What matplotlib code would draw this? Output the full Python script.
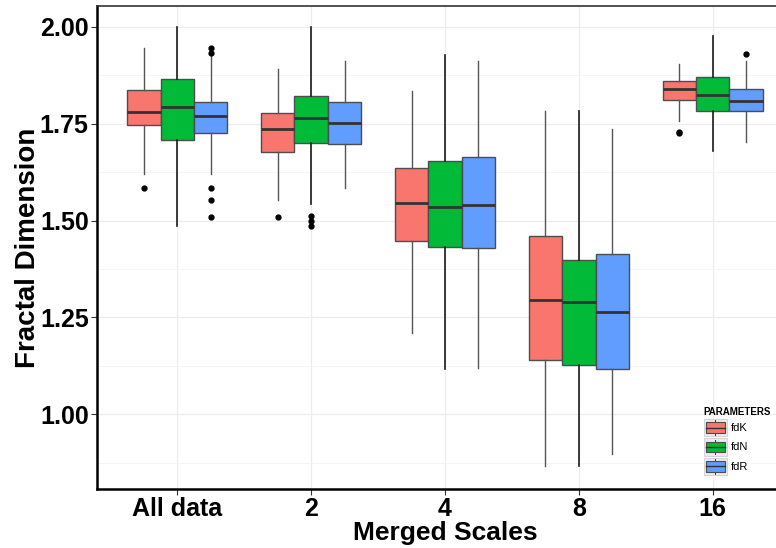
import matplotlib
matplotlib.use("Agg")
import matplotlib.pyplot as plt
from matplotlib.legend_handler import HandlerBase
from matplotlib.patches import Rectangle
from matplotlib.lines import Line2D

plt.rcParams['font.family'] = ['Liberation Sans', 'DejaVu Sans']

groups = ["All data", "2", "4", "8", "16"]
params = ["fdK", "fdN", "fdR"]
colors = {"fdK": "#F8766D", "fdN": "#00BA38", "fdR": "#619CFF"}

# five-number summaries per merged scale
fdK_whislo = [1.619, 1.554, 1.209, 0.866, 1.758]
fdK_q1     = [1.747, 1.678, 1.448, 1.139, 1.812]
fdK_med    = [1.781, 1.737, 1.546, 1.294, 1.840]
fdK_q3     = [1.838, 1.778, 1.636, 1.459, 1.861]
fdK_whishi = [1.946, 1.892, 1.835, 1.784, 1.905]
fdK_fliers = [[1.585], [1.510], [], [], [1.729, 1.725]]

fdN_whislo = [1.487, 1.544, 1.116, 0.866, 1.680]
fdN_q1     = [1.709, 1.701, 1.433, 1.126, 1.784]
fdN_med    = [1.794, 1.765, 1.536, 1.291, 1.825]
fdN_q3     = [1.866, 1.822, 1.655, 1.399, 1.871]
fdN_whishi = [2.000, 2.000, 1.928, 1.784, 1.977]
fdN_fliers = [[], [1.513, 1.500, 1.487], [], [], []]

fdR_whislo = [1.619, 1.585, 1.119, 0.897, 1.704]
fdR_q1     = [1.726, 1.698, 1.430, 1.116, 1.784]
fdR_med    = [1.771, 1.753, 1.541, 1.265, 1.809]
fdR_q3     = [1.807, 1.807, 1.665, 1.415, 1.840]
fdR_whishi = [1.928, 1.912, 1.912, 1.737, 1.912]
fdR_fliers = [[1.946, 1.933, 1.585, 1.552, 1.510], [], [], [], [1.930]]

summary = {
    "fdK": (fdK_whislo, fdK_q1, fdK_med, fdK_q3, fdK_whishi, fdK_fliers),
    "fdN": (fdN_whislo, fdN_q1, fdN_med, fdN_q3, fdN_whishi, fdN_fliers),
    "fdR": (fdR_whislo, fdR_q1, fdR_med, fdR_q3, fdR_whishi, fdR_fliers),
}

fig = plt.figure(figsize=(7.76, 5.48), dpi=100)
ax = fig.add_axes([97 / 776, 1 - 489 / 548, 696 / 776, 483 / 548])

width = 0.25
offsets = [-0.25, 0.0, 0.25]
for p, off in zip(params, offsets):
    lo, q1, med, q3, hi, fl = summary[p]
    stats = [dict(whislo=lo[i], q1=q1[i], med=med[i], q3=q3[i], whishi=hi[i],
                  fliers=fl[i], label=groups[i]) for i in range(len(groups))]
    wcol = "#1a1a1a" if p == "fdN" else "#555555"
    wlw = 1.2 if p == "fdN" else 1.0
    ax.bxp(stats, positions=[i + 1 + off for i in range(len(groups))],
           widths=width, patch_artist=True, showcaps=False, manage_ticks=False,
           boxprops=dict(facecolor=colors[p], edgecolor="#4d4d4d", linewidth=1.0),
           medianprops=dict(color="#333333", linewidth=2.0),
           whiskerprops=dict(color=wcol, linewidth=wlw),
           flierprops=dict(marker="o", markerfacecolor="black",
                           markeredgecolor="black", markersize=3.5),
           zorder=3)

ax.set_xlim(0.4, 5.6)
ax.set_ylim(0.807, 2.054)
ax.set_xticks(range(1, len(groups) + 1))
ax.set_xticklabels(groups)
ax.set_yticks([1.0, 1.25, 1.5, 1.75, 2.0])
ax.set_yticklabels(["1.00", "1.25", "1.50", "1.75", "2.00"])
ax.set_yticks([0.875, 1.125, 1.375, 1.625, 1.875], minor=True)

ax.grid(True, which="major", color="#ededed", linewidth=0.9, zorder=0)
ax.grid(True, which="minor", axis="y", color="#f4f4f4", linewidth=0.6, zorder=0)
ax.set_axisbelow(True)

for lab in ax.get_xticklabels() + ax.get_yticklabels():
    lab.set_fontweight("bold")
ax.tick_params(axis="both", which="major", labelsize=18, length=4, width=0.8,
               color="#333333", pad=2)
ax.tick_params(axis="y", which="minor", length=0)

ax.spines["right"].set_visible(False)
ax.spines["left"].set_linewidth(1.8)
ax.spines["bottom"].set_linewidth(1.8)
ax.spines["top"].set_linewidth(1.2)
ax.spines["top"].set_color("#333333")

ax.set_xlabel("Merged Scales", fontsize=19, fontweight="bold", labelpad=0)
ax.set_ylabel("Fractal Dimension", fontsize=20, fontweight="bold", labelpad=-1)


class BoxKey(HandlerBase):
    def create_artists(self, legend, orig_handle, xdescent, ydescent,
                       width, height, fontsize, trans):
        x0, y0 = -xdescent, -ydescent
        bg = Rectangle((x0, y0), width, height, facecolor="#ebebeb",
                       edgecolor="#d0d0d0", linewidth=0.6, transform=trans)
        cx = x0 + width / 2
        wh1 = Line2D([cx, cx], [y0 + height * 0.08, y0 + height * 0.2],
                     color="#333333", linewidth=0.7, transform=trans)
        wh2 = Line2D([cx, cx], [y0 + height * 0.8, y0 + height * 0.92],
                     color="#333333", linewidth=0.7, transform=trans)
        box = Rectangle((x0 + width * 0.1, y0 + height * 0.2),
                        width * 0.8, height * 0.6,
                        facecolor=orig_handle.get_facecolor(), edgecolor="#4d4d4d",
                        linewidth=0.8, transform=trans)
        med = Line2D([x0 + width * 0.1, x0 + width * 0.9],
                     [y0 + height / 2] * 2, color="#333333", linewidth=1.0,
                     transform=trans)
        return [bg, wh1, wh2, box, med]


handles = [Rectangle((0, 0), 1, 1, facecolor=colors[p]) for p in params]
leg = fig.legend(handles, params, loc="upper left",
                 bbox_to_anchor=(696 / 776, 1 - 399 / 548), frameon=False,
                 title="PARAMETERS", fontsize=8, handlelength=2.1,
                 handleheight=2.0, handletextpad=0.3, labelspacing=0.2,
                 borderpad=0.2, handler_map={Rectangle: BoxKey()})
leg.get_title().set_fontweight("bold")
leg.get_title().set_fontsize(7)
leg._legend_box.align = "left"

fig.savefig("out.png", dpi=100)
